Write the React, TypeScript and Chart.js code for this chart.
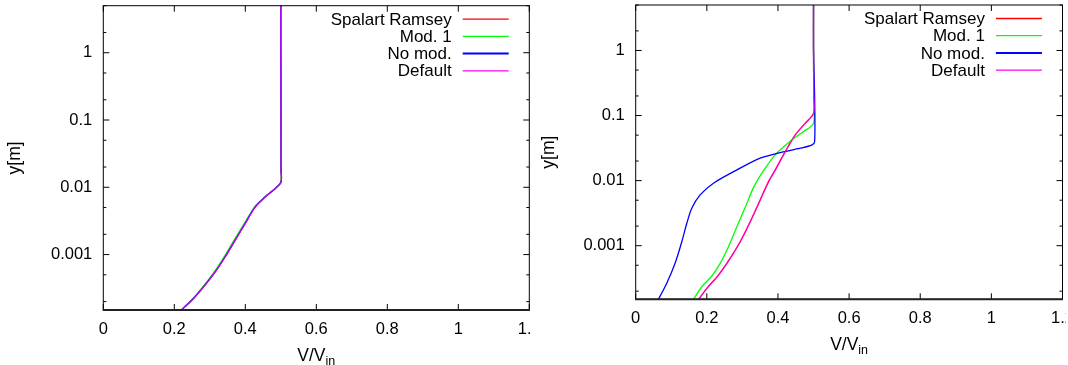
import { useEffect, useRef } from 'react';
import { Chart, registerables } from 'chart.js';

Chart.register(...registerables);

const FONT = '"Liberation Sans", Arial, Helvetica, sans-serif';

// ---- axes / ticks ----
const X_MIN = 0;
const X_MAX = 1.2;
const Y_MIN = 0.00015;
const Y_MAX = 5;
const X_TICKS = [0, 0.2, 0.4, 0.6, 0.8, 1, 1.2];
const X_TICK_LABELS = ['0', '0.2', '0.4', '0.6', '0.8', '1', '1.2'];
const Y_TICKS = [0.001, 0.01, 0.1, 1];
const Y_TICK_LABELS = ['0.001', '0.01', '0.1', '1'];
const Y_MINOR_TICKS = [0.0002, 0.0005, 0.002, 0.005, 0.02, 0.05, 0.2, 0.5, 2, 5];

// ---- series ----
const SERIES_NAMES = ['Spalart Ramsey', 'Mod. 1', 'No mod.', 'Default'];
const SERIES_COLORS = ['#ff0000', '#00ff00', '#0000ff', '#ff00ff'];
const SERIES_LINE_COLORS = ['#ff0000', '#00ff00', '#0000ff', 'rgba(255,0,255,0.75)'];

// Left panel
const leftY_SR = [1.4e-4, 2.09e-4, 3.29e-4, 5.5e-4, 9.2e-4, 1.63e-3, 2.88e-3, 5.08e-3, 7.15e-3, 9.53e-3, 0.012, 0.0178, 0.1, 1, 6];
const leftV_SR = [0.2135, 0.249, 0.2817, 0.3146, 0.3428, 0.371, 0.3992, 0.4273, 0.4555, 0.4837, 0.5006, 0.5008, 0.5005, 0.5, 0.5];
const leftY_Mod1 = [1.4e-4, 2.09e-4, 3.29e-4, 5.5e-4, 9.2e-4, 1.63e-3, 2.88e-3, 5.08e-3, 7.15e-3, 9.53e-3, 0.012, 0.0178, 0.1, 1, 6];
const leftV_Mod1 = [0.2125, 0.2475, 0.2795, 0.312, 0.34, 0.368, 0.397, 0.4258, 0.455, 0.4835, 0.5006, 0.5008, 0.5005, 0.5, 0.5];
const leftY_NoMod = [1.4e-4, 2.09e-4, 3.29e-4, 5.5e-4, 9.2e-4, 1.63e-3, 2.88e-3, 5.08e-3, 7.15e-3, 9.53e-3, 0.012, 0.0178, 0.1, 1, 6];
const leftV_NoMod = [0.2135, 0.249, 0.2817, 0.3146, 0.3428, 0.371, 0.3992, 0.4273, 0.4555, 0.4837, 0.5006, 0.5008, 0.5005, 0.5, 0.5];
const leftY_Default = [1.4e-4, 2.09e-4, 3.29e-4, 5.5e-4, 9.2e-4, 1.63e-3, 2.88e-3, 5.08e-3, 7.15e-3, 9.53e-3, 0.012, 0.0178, 0.1, 1, 6];
const leftV_Default = [0.2138, 0.2493, 0.282, 0.3149, 0.3431, 0.3713, 0.3995, 0.4276, 0.4557, 0.4838, 0.5006, 0.5008, 0.5005, 0.5, 0.5];

// Right panel
const rightY_SR = [1.4e-4, 2.21e-4, 3.54e-4, 6.4e-4, 1.15e-3, 2.34e-3, 5.05e-3, 9.66e-3, 0.0146, 0.0279, 0.0505, 0.0764, 0.109, 0.2, 1, 6];
const rightV_SR = [0.173, 0.2, 0.2327, 0.2656, 0.2938, 0.322, 0.3501, 0.3736, 0.3924, 0.4206, 0.4487, 0.4769, 0.5003, 0.5005, 0.5, 0.5];
const rightY_Mod1 = [1.4e-4, 2.34e-4, 3.42e-4, 5.36e-4, 9.66e-4, 1.96e-3, 3.9e-3, 8.09e-3, 0.0146, 0.0249, 0.0423, 0.0568, 0.0764, 0.2, 1, 6];
const rightV_Mod1 = [0.159, 0.1859, 0.2141, 0.2375, 0.2608, 0.2845, 0.308, 0.3325, 0.3608, 0.3924, 0.4394, 0.4721, 0.5003, 0.5005, 0.5, 0.5];
const rightY_NoMod = [1.4e-4, 2.64e-4, 5.36e-4, 1.15e-3, 2.21e-3, 3.76e-3, 6.03e-3, 9.12e-3, 0.0146, 0.0221, 0.027, 0.0315, 0.0355, 0.0398, 0.2, 1, 6];
const rightV_NoMod = [0.061, 0.0873, 0.1107, 0.1296, 0.1437, 0.1577, 0.1811, 0.2186, 0.2845, 0.35, 0.4065, 0.4628, 0.4958, 0.5031, 0.503, 0.5, 0.5];
const rightY_Default = [1.4e-4, 2.21e-4, 3.54e-4, 6.4e-4, 1.15e-3, 2.34e-3, 5.05e-3, 9.66e-3, 0.0146, 0.0279, 0.0505, 0.0764, 0.109, 0.2, 1, 6];
const rightV_Default = [0.173, 0.2, 0.2327, 0.2656, 0.2938, 0.322, 0.3501, 0.3736, 0.3924, 0.4206, 0.4487, 0.4769, 0.5003, 0.5005, 0.5, 0.5];

const LEFT_SERIES = [
  [leftV_SR, leftY_SR],
  [leftV_Mod1, leftY_Mod1],
  [leftV_NoMod, leftY_NoMod],
  [leftV_Default, leftY_Default],
];
const RIGHT_SERIES = [
  [rightV_SR, rightY_SR],
  [rightV_Mod1, rightY_Mod1],
  [rightV_NoMod, rightY_NoMod],
  [rightV_Default, rightY_Default],
];

const decorPlugin = {
  id: 'gnuplotDecor',
  afterDraw(chart: any) {
    const { ctx, chartArea: a } = chart;
    const xs = chart.scales.x;
    const ys = chart.scales.y;
    ctx.save();
    ctx.strokeStyle = '#000';
    ctx.lineWidth = 1;
    ctx.beginPath();
    for (const v of X_TICKS) {
      const px = xs.getPixelForValue(v);
      ctx.moveTo(px, a.bottom);
      ctx.lineTo(px, a.bottom - 6);
      ctx.moveTo(px, a.top);
      ctx.lineTo(px, a.top + 6);
    }
    for (const v of Y_TICKS) {
      const py = ys.getPixelForValue(v);
      ctx.moveTo(a.left, py);
      ctx.lineTo(a.left + 6, py);
      ctx.moveTo(a.right, py);
      ctx.lineTo(a.right - 6, py);
    }
    for (const v of Y_MINOR_TICKS) {
      const py = ys.getPixelForValue(v);
      ctx.moveTo(a.left, py);
      ctx.lineTo(a.left + 3, py);
      ctx.moveTo(a.right, py);
      ctx.lineTo(a.right - 3, py);
    }
    ctx.stroke();
    // border
    ctx.strokeStyle = '#000';
    ctx.lineWidth = 1;
    ctx.strokeRect(a.left, a.top, a.right - a.left, a.bottom - a.top);
    ctx.lineWidth = 2;
    ctx.strokeStyle = '#222';
    ctx.beginPath();
    ctx.moveTo(a.left - 0.5, a.bottom);
    ctx.lineTo(a.right + 0.5, a.bottom);
    ctx.stroke();

    // tick labels
    ctx.fillStyle = '#000';
    ctx.font = `16.5px ${FONT}`;
    ctx.textAlign = 'right';
    ctx.textBaseline = 'middle';
    Y_TICKS.forEach((v, i) => {
      ctx.fillText(Y_TICK_LABELS[i], a.left - 11, ys.getPixelForValue(v));
    });
    ctx.textAlign = 'center';
    ctx.textBaseline = 'alphabetic';
    X_TICKS.forEach((v, i) => {
      ctx.fillText(X_TICK_LABELS[i], xs.getPixelForValue(v), a.bottom + 23.5);
    });

    // y title
    ctx.save();
    ctx.translate(15.5, (a.top + a.bottom) / 2);
    ctx.rotate(-Math.PI / 2);
    ctx.font = `17.5px ${FONT}`;
    ctx.textAlign = 'center';
    ctx.textBaseline = 'middle';
    ctx.fillText('y[m]', 0, 0);
    ctx.restore();

    // x title with subscript
    const main = 'V/V';
    const sub = 'in';
    ctx.font = `17.5px ${FONT}`;
    const wMain = ctx.measureText(main).width;
    ctx.font = `12.5px ${FONT}`;
    const wSub = ctx.measureText(sub).width;
    const cx = (a.left + a.right) / 2;
    const startX = cx - (wMain + wSub) / 2;
    const base = a.bottom + 51;
    ctx.textAlign = 'left';
    ctx.font = `17.5px ${FONT}`;
    ctx.fillText(main, startX, base);
    ctx.font = `12.5px ${FONT}`;
    ctx.fillText(sub, startX + wMain, base + 4);

    // legend
    ctx.font = `17px ${FONT}`;
    ctx.textAlign = 'right';
    ctx.textBaseline = 'middle';
    chart.data.datasets.forEach((ds: any, i: number) => {
      const yy = a.top + 13.5 + i * 17.2;
      ctx.fillStyle = '#000';
      ctx.fillText(ds.label, a.right - 77.6, yy + 1);
      ctx.strokeStyle = SERIES_COLORS[i];
      ctx.lineWidth = i === 2 ? 2 : 1.3;
      ctx.beginPath();
      ctx.moveTo(a.right - 66.6, yy);
      ctx.lineTo(a.right - 20.6, yy);
      ctx.stroke();
    });
    ctx.restore();
  },
};

type PanelProps = {
  left: number;
  width: number;
  height: number;
  padding: { left: number; right: number; top: number; bottom: number };
  series: number[][][];
};

function Panel({ left, width, height, padding, series }: PanelProps) {
  const ref = useRef<HTMLCanvasElement | null>(null);
  useEffect(() => {
    if (!ref.current) return;
    const datasets = series.map(([vs, yv], i) => ({
      label: SERIES_NAMES[i],
      data: vs.map((v, k) => ({ x: v, y: yv[k] })),
      borderColor: SERIES_LINE_COLORS[i],
      backgroundColor: SERIES_COLORS[i],
      borderWidth: 1.3,
      pointRadius: 0,
      tension: 0.3,
      fill: false,
      order: 3 - i,
    }));
    const chart = new Chart(ref.current, {
      type: 'line',
      data: { datasets },
      options: {
        animation: false,
        responsive: false,
        devicePixelRatio: 1,
        layout: { padding },
        plugins: { legend: { display: false }, tooltip: { enabled: false } },
        scales: {
          x: { type: 'linear', min: X_MIN, max: X_MAX, display: false },
          y: { type: 'logarithmic', min: Y_MIN, max: Y_MAX, display: false },
        },
      },
      plugins: [decorPlugin],
    } as any);
    return () => chart.destroy();
  }, []);
  return (
    <div style={{ position: 'absolute', left, top: 0, width, height, background: '#fff' }}>
      <canvas ref={ref} width={width} height={height} style={{ width, height, display: 'block' }} />
    </div>
  );
}

export default function App() {
  return (
    <div style={{ position: 'absolute', left: 0, top: 0, width: 1068, height: 365, background: '#fff' }}>
      <Panel
        left={0}
        width={531}
        height={365}
        padding={{ left: 103.3, right: 1.7, top: 5.7, bottom: 55 }}
        series={LEFT_SERIES}
      />
      <Panel
        left={534}
        width={532}
        height={365}
        padding={{ left: 101.7, right: 3.5, top: 5, bottom: 65.7 }}
        series={RIGHT_SERIES}
      />
    </div>
  );
}
